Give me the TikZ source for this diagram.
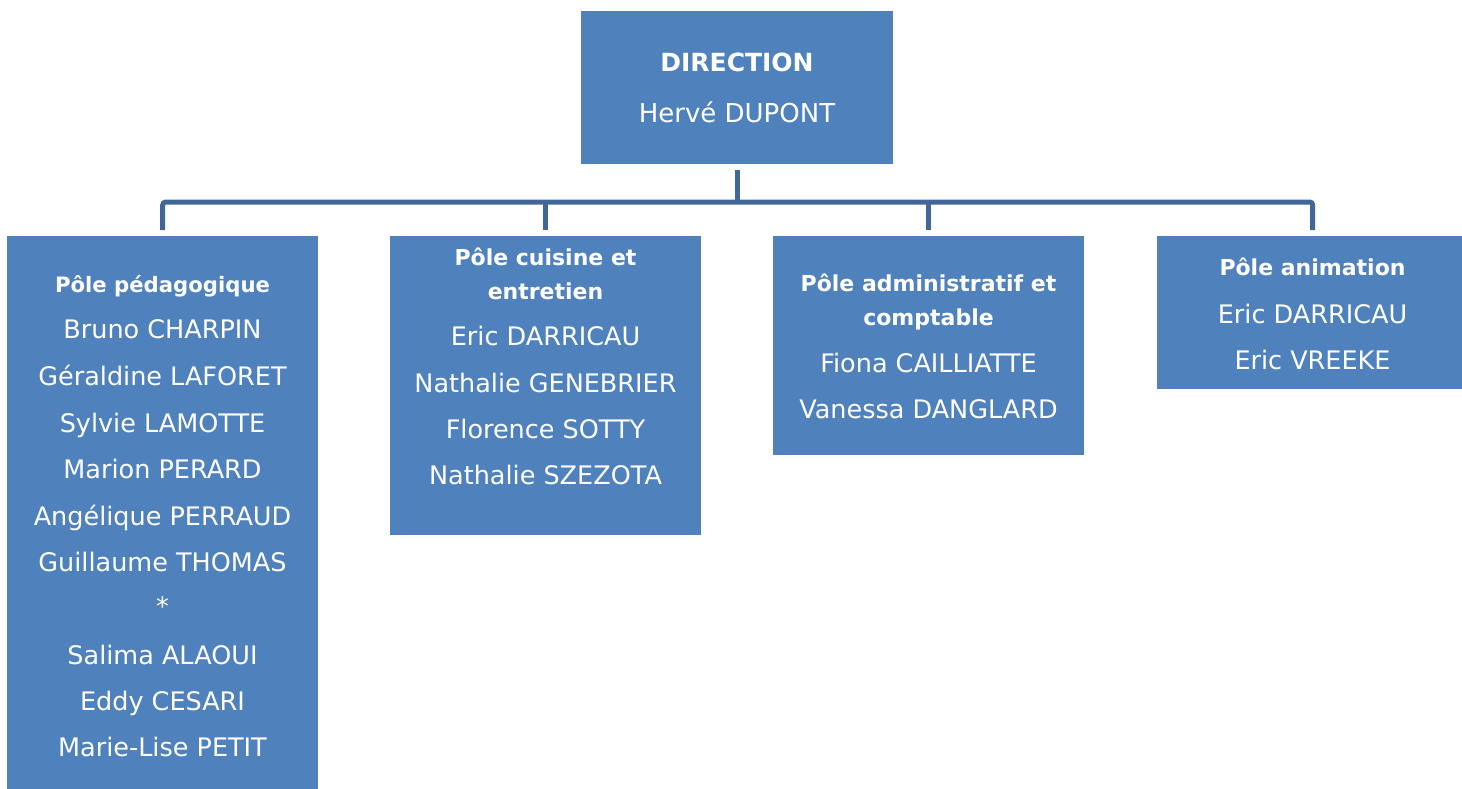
\documentclass[tikz,border=0pt]{standalone}
\usepackage{fontspec}
\setmainfont{DejaVu Sans}
\begin{document}
\begin{tikzpicture}[x=1pt,y=1pt,
  box/.style={fill=boxblue, draw=none, inner sep=0pt, anchor=north west, minimum width=311pt},
  conn/.style={draw=linkblue, line width=5pt, rounded corners=3pt},
  nm/.style={text=white, inner sep=0pt, text height=0.72em, text depth=0pt, font=\fontsize{25.5}{30}\selectfont},
  ttl/.style={nm, font=\fontsize{22}{26}\selectfont\bfseries}]
\definecolor{boxblue}{HTML}{4F81BD}
\definecolor{linkblue}{HTML}{41679A}
\useasboundingbox (0,0) rectangle (1462,-789);
\clip (0,0) rectangle (1462,-789);
% boxes
\node[box, minimum width=312pt, minimum height=153pt] (dir) at (581,-11) {};
\node[box, minimum height=560pt] (p1) at (7,-236) {};
\node[box, minimum height=299pt] (p2) at (390,-236) {};
\node[box, minimum height=219pt] (p3) at (773,-236) {};
\node[box, minimum height=153pt] (p4) at (1157,-236) {};
\coordinate (bar) at (737,-202);
% connectors
\draw[conn] ([yshift=-6pt]dir.south) -- (dir.south |- bar);
\draw[conn] ([yshift=6pt]p1.north) -- (p1.north |- bar) -- (p4.north |- bar) -- ([yshift=6pt]p4.north);
\draw[conn] ([yshift=6pt]p2.north) -- (p2.north |- bar);
\draw[conn] ([yshift=6pt]p3.north) -- (p3.north |- bar);
% direction
\node[ttl, font=\fontsize{25}{28}\selectfont\bfseries] (d1) at (737,-68) {DIRECTION};
\node[nm, font=\fontsize{26}{30}\selectfont] (d2) at (737,-119) {Hervé DUPONT};
% pole 1
\node[ttl, font=\fontsize{21.2}{26}\selectfont\bfseries] (a0) at (162.5,-289) {Pôle pédagogique};
\foreach \t/\yy [count=\i] in {Bruno CHARPIN/335, Géraldine LAFORET/382, Sylvie LAMOTTE/429, Marion PERARD/475, Angélique PERRAUD/522, Guillaume THOMAS/568, */612, Salima ALAOUI/661, Eddy CESARI/707, Marie-Lise PETIT/753}
  \node[nm] (a\i) at (162.5,-\yy) {\t};
% pole 2
\node[ttl] (b0) at (545.5,-262) {Pôle cuisine et};
\node[ttl] (b00) at (545.5,-296) {entretien};
\foreach \t/\yy [count=\i] in {Eric DARRICAU/342, Nathalie GENEBRIER/389, Florence SOTTY/435, Nathalie SZEZOTA/481}
  \node[nm] (b\i) at (545.5,-\yy) {\t};
% pole 3
\node[ttl] (c0) at (928.5,-288) {Pôle administratif et};
\node[ttl] (c00) at (928.5,-322) {comptable};
\foreach \t/\yy [count=\i] in {Fiona CAILLIATTE/369, Vanessa DANGLARD/415}
  \node[nm] (c\i) at (928.5,-\yy) {\t};
% pole 4
\node[ttl] (e0) at (1312.5,-272) {Pôle animation};
\foreach \t/\yy [count=\i] in {Eric DARRICAU/320, Eric VREEKE/366}
  \node[nm] (e\i) at (1312.5,-\yy) {\t};
\end{tikzpicture}
\end{document}
